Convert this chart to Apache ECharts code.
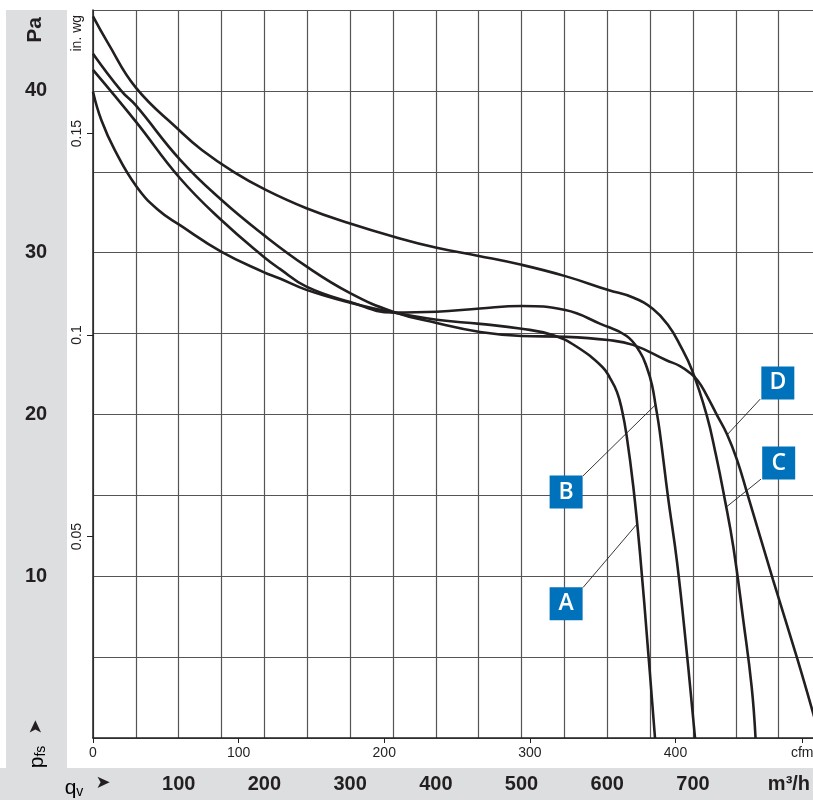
<!DOCTYPE html>
<html>
<head>
<meta charset="utf-8">
<script src="https://cdn.jsdelivr.net/npm/echarts@6/dist/echarts.min.js"></script>
<style>
html,body{margin:0;padding:0;background:#fff;}
#chart{width:813px;height:800px;}
</style>
</head>
<body>
<div id="chart"></div>
<script>
// ---- data (q in m³/h, p in Pa) ----
const curveA = [[0,39.95],[9.7,38.2],[25.3,36.35],[50.5,34.1],[75.8,32.65],[101.5,31.7],[150,30.05],[199,28.8],[218,28.4],[249,27.7],[300,26.9],[350,26.3],[401,25.85],[451.5,25.6],[500,25.3],[537,24.9],[564,24.2],[594,22.95],[603.2,22.25],[611.4,21.38],[617.2,20.26],[622.5,18.72],[630.4,15.53],[638.2,11.41],[647.9,5.22],[655.7,0]];
const curveB = [[0,41.3],[50,38.1],[101.5,34.6],[150,32.0],[199,29.75],[218,29.0],[249,27.9],[300,26.95],[350,26.3],[401,26.35],[451.5,26.55],[500,26.7],[551,26.45],[592,25.6],[622.6,24.85],[638.2,23.85],[646.4,22.87],[652.2,21.82],[656.3,20.58],[661,19.03],[670.9,14.89],[681.4,10.87],[692.5,5.42],[702.4,0]];
const curveC = [[0,44.6],[17,43.0],[50,40.2],[100,37.6],[127,36.35],[164,35.0],[201,33.9],[249,32.75],[300,31.8],[350,31.0],[401,30.3],[450,29.8],[500,29.25],[551,28.55],[601.2,27.69],[630,27.23],[653.4,26.52],[670.9,25.53],[684.9,24.29],[698.9,22.74],[716,19.96],[726.8,17.49],[736.2,15.01],[747.1,11.81],[758.7,7.28],[768.5,3.15],[773,0]];
const curveD = [[0,42.3],[33,40.0],[50,39.1],[101.5,35.75],[150,33.25],[199,31.1],[249,29.15],[300,27.5],[350,26.35],[401,25.65],[451.5,25.1],[500,24.85],[551,24.8],[601,24.6],[630,24.3],[669,23.35],[684.9,22.99],[696.6,22.56],[705.9,22.07],[715.2,21.26],[728,19.96],[739.7,18.78],[751.5,17.18],[763.2,15.14],[793.5,9.76],[821.5,4.93],[840.2,1.53],[848,0]];

const curveNames = ['A','B','C','D'];
const boxAnchors = [[552,8.3],[552,15.2],[800,17.0],[799,21.95]];
const leaderFrom = [[571.7,9.3],[571.7,16.2],[779.3,16.0],[778.5,20.95]];
const leaderTo = [[634.3,13.2],[656.3,20.6],[739.4,14.3],[740,18.75]];

const qMax = 851.7;          // m³/h (plot runs past the right edge)
const paMax = 45;            // Pa
const paLabels = [10,20,30,40];
const qLabels = [100,200,300,400,500,600,700];
const cfmTicks = [0,100,200,300,400];
const inwgTicks = [0.05,0.1,0.15];
const CFM = 1.69901;         // m³/h per cfm
const INWG = 249.089;        // Pa per in. wg

const FONT = "'Liberation Sans','Arial',sans-serif";
const INK = '#231f20';
const GRIDC = '#555555';
const BLUE = '#0072bc';
const BAND = '#dddee0';

const curves = [curveA, curveB, curveC, curveD];

const series = curves.map((d, i) => ({
  type: 'line',
  name: curveNames[i],
  data: d,
  smooth: 0.45,
  showSymbol: false,
  symbol: 'none',
  lineStyle: { color: INK, width: 2.6 },
  z: 3,
  markLine: {
    silent: true,
    symbol: ['none','none'],
    label: { show: false },
    lineStyle: { color: INK, width: 0.9, type: 'solid' },
    data: [[{ coord: leaderFrom[i] }, { coord: leaderTo[i] }]],
    z: 4
  },
  markPoint: {
    silent: true,
    symbol: 'rect',
    symbolSize: [33, 33],
    itemStyle: { color: BLUE },
    label: { show: true, position: 'inside', formatter: '{b}', color: '#fff', fontSize: 23, fontFamily: "'Open Sans','Noto Sans',sans-serif", fontWeight: 600 },
    data: [{ name: curveNames[i], coord: boxAnchors[i] }],
    z: 5
  }
}));

const cfmLabelPos = 487;
const inwgNamePos = 0.1749;
const qUnitPos = 812;

const option = {
  animation: false,
  backgroundColor: '#fff',
  grid: { left: 93, right: -10, top: 10, bottom: 62, outerBoundsMode: 'none', containLabel: false },
  graphic: [
    { type: 'rect', z: -100, shape: { x: 6, y: 10, width: 61, height: 758 }, style: { fill: BAND } },
    { type: 'rect', z: -100, shape: { x: 0, y: 768, width: 813, height: 32 }, style: { fill: BAND } },
    { type: 'text', x: 35, y: 30, rotation: Math.PI/2, style: { text: 'Pa', font: "bold 21px " + FONT, fill: INK, align: 'center', verticalAlign: 'middle' } },
    { type: 'text', x: 36, y: 727, rotation: Math.PI/2, style: { text: '➤', font: "18px 'DejaVu Sans',sans-serif", fill: INK, align: 'center', verticalAlign: 'middle' } },
    { type: 'text', x: 37, y: 757, rotation: Math.PI/2, style: { text: '{p|p}{s|fs}', align: 'center', verticalAlign: 'middle', rich: { p: { font: "21px " + FONT, color: INK }, s: { font: "14px " + FONT, color: INK, padding: [8,0,0,0] } } } },
    { type: 'text', x: 74, y: 788, style: { text: '{q|q}{v|v}', align: 'center', verticalAlign: 'middle', rich: { q: { font: "21px " + FONT, color: INK }, v: { font: "14px " + FONT, color: INK, padding: [8,0,0,0] } } } },
    { type: 'text', x: 103, y: 783, style: { text: '➤', font: "18px 'DejaVu Sans',sans-serif", fill: INK, align: 'center', verticalAlign: 'middle' } }
  ],
  xAxis: [
    {
      type: 'value', min: 0, max: qMax, interval: 50, position: 'bottom',
      axisLine: { show: true, onZero: false, lineStyle: { color: INK, width: 1.5 } },
      axisTick: { show: false },
      splitLine: { show: true, lineStyle: { color: GRIDC, width: 1.2 } },
      axisLabel: {
        customValues: qLabels.concat([qUnitPos]),
        formatter: v => (v === qUnitPos ? 'm³/h' : String(v)),
        fontFamily: FONT, fontSize: 20, fontWeight: 'bold', color: INK, margin: 36
      }
    },
    {
      type: 'value', min: 0, max: qMax / CFM, position: 'bottom',
      axisLine: { show: false },
      splitLine: { show: false },
      axisTick: { show: true, customValues: cfmTicks.concat([cfmLabelPos]), length: 5, lineStyle: { color: INK, width: 1 } },
      axisLabel: {
        customValues: cfmTicks.concat([cfmLabelPos]),
        formatter: v => (v === cfmLabelPos ? 'cfm' : String(v)),
        fontFamily: FONT, fontSize: 14, color: INK, margin: 8
      }
    }
  ],
  yAxis: [
    {
      type: 'value', min: 0, max: paMax, interval: 5, position: 'left',
      axisLine: { show: true, lineStyle: { color: INK, width: 1.5 } },
      axisTick: { show: false },
      splitLine: { show: true, lineStyle: { color: GRIDC, width: 1.2 } },
      axisLabel: {
        customValues: paLabels,
        fontFamily: FONT, fontSize: 20, fontWeight: 'bold', color: INK, margin: 57, align: 'center'
      }
    },
    {
      type: 'value', min: 0, max: paMax / INWG, position: 'left',
      axisLine: { show: false },
      splitLine: { show: false },
      axisTick: { show: true, customValues: inwgTicks, length: 6, lineStyle: { color: INK, width: 1 } },
      axisLabel: {
        customValues: inwgTicks.concat([inwgNamePos]),
        formatter: v => (v === inwgNamePos ? 'in. wg' : String(v)),
        rotate: 90, fontFamily: FONT, fontSize: 14, color: INK, margin: 9
      }
    }
  ],
  series: series
};

const chart = echarts.init(document.getElementById('chart'), null, { renderer: 'canvas' });
chart.setOption(option);
</script>
</body>
</html>
